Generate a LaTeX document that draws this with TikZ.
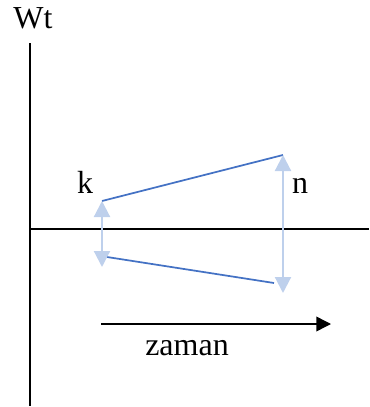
\documentclass[tikz,border=0pt]{standalone}
\usepackage{fontspec}
\setmainfont{Liberation Serif}
\usetikzlibrary{arrows.meta}
\definecolor{lineblue}{RGB}{68,114,196}
\definecolor{arrowblue}{RGB}{190,208,236}

\begin{document}
\begin{tikzpicture}[x=0.75pt, y=-0.75pt, every node/.style={font=\fontsize{24}{27}\selectfont, inner sep=0pt, anchor=base},
    axis/.style={black, line width=1.1pt},
    trend/.style={lineblue, line width=1.3pt},
    span/.style={arrowblue, line width=1.6pt, {Triangle[width=12pt, length=12pt]}-{Triangle[width=12pt, length=12pt]}}]
    \useasboundingbox (0,0) rectangle (369,407);

    % axes
    \coordinate (ytop) at (30,43);
    \coordinate (ybot) at (30,406);
    \coordinate (xl) at (30,229);
    \coordinate (xr) at (369,229);
    \draw[axis] (ytop) -- (ybot);
    \draw[axis] (xl) -- (xr);
    \node (wt) at (33,28) {Wt};

    % trend lines
    \coordinate (ua) at (102,201);
    \coordinate (ub) at (283,155);
    \coordinate (la) at (107,257);
    \coordinate (lb) at (274,283);
    \draw[trend] (ua) -- (ub);
    \draw[trend] (la) -- (lb);

    % spans
    \coordinate (ktop) at (102,201);
    \coordinate (kbot) at (102,267);
    \coordinate (ntop) at (283,155);
    \coordinate (nbot) at (283,293);
    \draw[span] (kbot) -- (ktop);
    \draw[span] (nbot) -- (ntop);
    \node (k) at (85,193) {k};
    \node (n) at (300,193) {n};

    % time arrow
    \coordinate (ta) at (101,324);
    \coordinate (tb) at (331,324);
    \draw[axis, -{Triangle[width=11pt, length=11pt]}] (ta) -- (tb);
    \node (zaman) at (187,355) {zaman};
\end{tikzpicture}
\end{document}
